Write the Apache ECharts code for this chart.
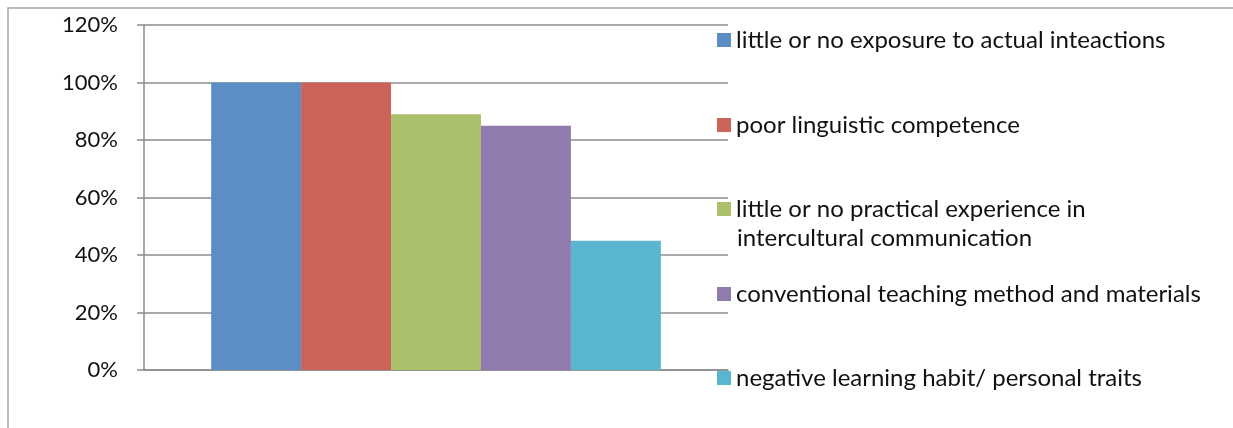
<!DOCTYPE html>
<html>
<head>
<meta charset="utf-8">
<script src="https://cdn.jsdelivr.net/npm/echarts@6/dist/echarts.min.js"></script>
<style>
  html, body { margin: 0; padding: 0; background: #fff; }
  #chart { width: 1233px; height: 428px; }
</style>
</head>
<body>
<div id="chart"></div>
<script>
// one category, five series (percent)
var categories = [''];
var seriesNames = [
  'little or no exposure to actual inteactions',
  'poor linguistic competence',
  'little or no practical experience in\nintercultural communication',
  'conventional teaching method and materials',
  'negative learning habit/ personal traits'
];
var seriesValues = [100, 100, 89, 85, 45];
var seriesColors = ['#5b8ec5', '#cb6359', '#aac06a', '#917bae', '#5ab6ce'];
var legendTops = [28, 113, 197, 282, 366];

var font = 'Lato';
var textColor = '#111';
var chart = echarts.init(document.getElementById('chart'));

// one legend per item so each can sit at its own height
var legends = seriesNames.map(function (name, i) {
  return {
    data: [name],
    left: 717,
    top: legendTops[i],
    icon: 'rect',
    itemWidth: 14,
    itemHeight: 14,
    padding: 0,
    selectedMode: false,
    formatter: function (n) { return n.split('\n')[0]; },
    textStyle: { fontFamily: font, fontSize: 24, color: textColor, lineHeight: 14 }
  };
});

var option = {
  animation: false,
  backgroundColor: '#fff',
  graphic: [{
    type: 'rect',
    shape: { x: 8, y: 8, width: 1260, height: 460 },
    style: { fill: 'none', stroke: '#a6a6a6', lineWidth: 1.5 },
    silent: true
  }, {
    // second line of the wrapped legend label
    type: 'text',
    left: 737,
    top: 226,
    style: {
      text: seriesNames[2].split('\n')[1],
      fontFamily: font,
      fontSize: 24,
      fill: textColor
    },
    silent: true
  }],
  legend: legends,
  grid: { left: 144, right: 505, top: 25, bottom: 58 },
  xAxis: {
    type: 'category',
    data: categories,
    axisLine: { show: true, lineStyle: { color: '#8c8c8c', width: 1.5 } },
    axisTick: { show: false },
    axisLabel: { show: false }
  },
  yAxis: {
    type: 'value',
    min: 0,
    max: 120,
    interval: 20,
    axisLine: { show: true, lineStyle: { color: '#8c8c8c', width: 1.5 } },
    axisTick: { show: true, length: 7, lineStyle: { color: '#8c8c8c', width: 1.5 } },
    splitLine: { show: true, lineStyle: { color: '#8c8c8c', width: 1.5 } },
    axisLabel: {
      formatter: '{value}%',
      margin: 26,
      fontFamily: font,
      fontSize: 22,
      color: textColor
    }
  },
  series: seriesNames.map(function (name, i) {
    return {
      name: name,
      type: 'bar',
      data: [seriesValues[i]],
      barGap: '0%',
      barCategoryGap: '23%',
      itemStyle: { color: seriesColors[i] }
    };
  })
};

chart.setOption(option);
</script>
</body>
</html>
